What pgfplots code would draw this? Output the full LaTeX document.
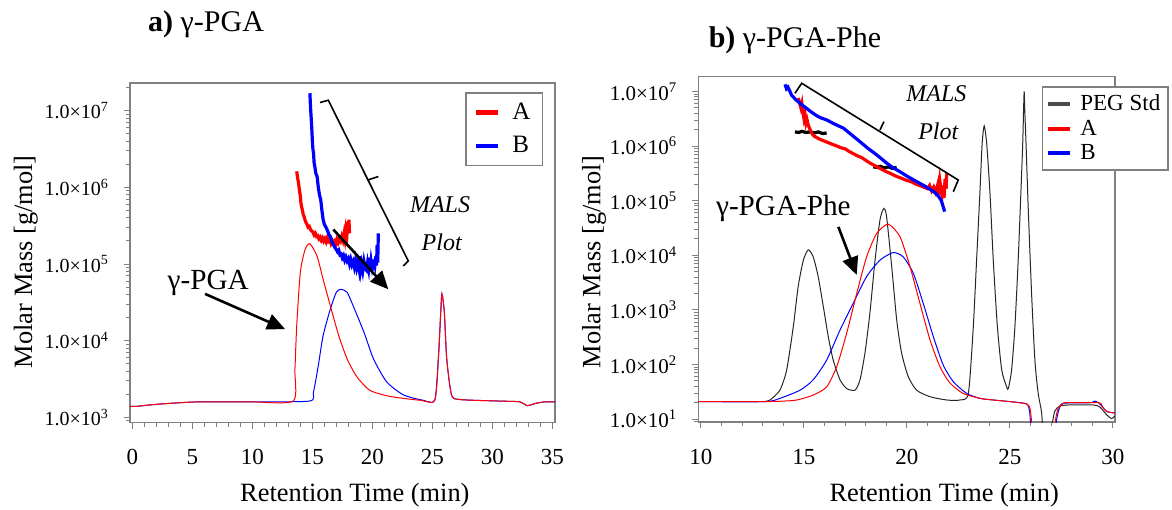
\documentclass[border=0pt]{standalone}
\usepackage{fontspec}
\setmainfont{Liberation Serif}
\usepackage{pgfplots}
\pgfplotsset{compat=1.18}
\usetikzlibrary{arrows.meta}

% y values are log10 of the molar mass (axis drawn in decades)
\pgfplotsset{
  gpc/.style={
    scale only axis, anchor=south west,
    axis line style={draw=gray, line width=0.8pt},
    tick align=outside, tick pos=left,
    tick style={gray, line width=0.5pt},
    major tick length=3pt, minor tick length=2pt,
    minor x tick num=4,
    /pgf/number format/assume math mode=true,
    xticklabel style={font=\fontsize{11.5}{12}\selectfont, yshift=-7pt},
    xlabel style={font=\fontsize{13.2}{14}\selectfont, anchor=center},
    ylabel style={font=\fontsize{13.2}{14}\selectfont, anchor=center},
    title style={font=\fontsize{15}{16}\selectfont, anchor=center, yshift=0pt},
    legend image code/.code={\draw[#1] (0pt,0pt) -- (11pt,0pt);},
    legend cell align=left,
  },
  ri/.style={line width=0.5pt, smooth, tension=0.4, forget plot},
  mals/.style={line width=1.6pt, forget plot},
}

\begin{document}
\begin{tikzpicture}
\path[use as bounding box] (0pt,0pt) rectangle (586pt,254.5pt);

% ---------------- a) gamma-PGA ----------------
\begin{axis}[gpc,
  at={(65pt,43.25pt)}, width=212.5pt, height=169.6pt,
  xmin=-0.19, xmax=35.22, ymin=2.93, ymax=7.36,
  xtick={0,5,...,35},
  ytick={3,4,5,6,7},
  yticklabels={1.0×10\textsuperscript{3},1.0×10\textsuperscript{4},1.0×10\textsuperscript{5},1.0×10\textsuperscript{6},1.0×10\textsuperscript{7}},
  minor ytick={2.954,3.301,3.477,3.602,3.699,3.778,3.845,3.903,3.954,4.301,4.477,4.602,4.699,4.778,4.845,4.903,4.954,5.301,5.477,5.602,5.699,5.778,5.845,5.903,5.954,6.301,6.477,6.602,6.699,6.778,6.845,6.903,6.954,7.301},
  yticklabel style={font=\fontsize{10}{12}\selectfont, xshift=-4pt},
  xlabel={Retention Time (min)},
  xlabel style={at={(axis description cs:0.529,-0.214)}},
  ylabel={Molar Mass [g/mol]},
  ylabel style={at={(axis description cs:-0.245,0.474)}},
  title={\textbf{a)} γ-PGA},
  title style={at={(axis description cs:0.179,1.14)}},
  legend style={at={(axis description cs:0.9725,0.975)}, anchor=north east,
    draw=gray, line width=0.9pt, font=\fontsize{12.5}{13}\selectfont,
    inner xsep=4pt, inner ysep=3pt, row sep=3pt, column sep=4pt},
]
% RI traces
\addplot[ri, blue] coordinates {
(-0.19,3.14) (0.3,3.14) (1.5,3.16) (3.1,3.18) (5.6,3.20) (9.8,3.20) (14.75,3.21)
(15.1,3.33) (15.5,3.675) (15.9,4.065) (16.5,4.41) (17.0,4.63) (17.4,4.67) (17.9,4.63)
(18.4,4.455) (19.3,4.11) (20.1,3.76) (21.2,3.46) (22.6,3.29) (24.25,3.22) (25.2,3.22)
(25.5,3.76) (25.7,4.37) (25.8,4.61) (26.0,4.37) (26.2,3.76) (26.6,3.29) (27.3,3.23)
(30.6,3.21) (32.3,3.20) (32.9,3.15) (33.6,3.18) (34.4,3.20) (35.22,3.20)
};
\addplot[ri, red] coordinates {
(-0.19,3.14) (0.3,3.14) (1.5,3.16) (3.1,3.18) (5.6,3.20) (9.8,3.20) (13.4,3.21)
(13.55,3.62) (13.7,4.19) (14.0,4.89) (14.4,5.19) (14.8,5.265) (15.4,5.10) (15.9,4.80)
(16.5,4.455) (17.2,4.065) (17.9,3.76) (18.7,3.53) (19.8,3.35) (21.5,3.27) (24.0,3.22)
(25.2,3.22) (25.5,3.76) (25.7,4.37) (25.8,4.61) (26.0,4.37) (26.2,3.76) (26.6,3.29)
(27.3,3.23) (30.6,3.21) (32.3,3.20) (32.9,3.15) (33.6,3.18) (34.4,3.20) (35.22,3.20)
};
% MALS traces
\addplot[mals, red] coordinates {
(13.70,6.21) (13.78,6.12) (13.85,6.06) (13.92,5.97) (14.00,5.89) (14.05,5.80) (14.10,5.75)
(14.18,5.70) (14.25,5.64) (14.32,5.62) (14.40,5.57) (14.48,5.54) (14.55,5.52) (14.65,5.48)
(14.75,5.49) (14.85,5.45) (14.95,5.43) (15.05,5.42) (15.15,5.38) (15.25,5.40) (15.35,5.36)
(15.45,5.37) (15.55,5.33) (15.65,5.35) (15.75,5.31) (15.85,5.34) (15.95,5.30) (16.05,5.33)
(16.15,5.29) (16.25,5.34) (16.35,5.30) (16.45,5.32) (16.55,5.27) (16.65,5.31) (16.75,5.28)
(16.85,5.30) (16.95,5.26) (17.05,5.32) (17.15,5.28) (17.25,5.33) (17.35,5.30) (17.45,5.36)
(17.55,5.31) (17.65,5.40) (17.72,5.33) (17.80,5.45) (17.88,5.38) (17.95,5.55) (18.00,5.42)
(18.05,5.58) (18.10,5.40)
};
\addplot[mals, blue] coordinates {
(14.80,7.23) (14.85,7.05) (14.90,6.92) (14.95,6.79) (15.00,6.62) (15.05,6.50) (15.10,6.45)
(15.15,6.32) (15.20,6.28) (15.30,6.18) (15.40,6.14) (15.50,6.00) (15.60,5.90) (15.70,5.84)
(15.80,5.70) (15.90,5.58) (16.00,5.52) (16.10,5.49) (16.20,5.46) (16.30,5.42) (16.40,5.38)
(16.50,5.36) (16.60,5.30) (16.70,5.27) (16.80,5.24) (16.90,5.21) (17.00,5.19) (17.10,5.16)
(17.20,5.18) (17.30,5.12) (17.40,5.13) (17.50,5.08) (17.60,5.11) (17.70,5.05) (17.80,5.09)
(17.90,5.04) (18.00,5.07) (18.10,5.00) (18.20,5.06) (18.30,4.99) (18.40,5.03) (18.50,4.96)
(18.60,5.05) (18.70,4.95) (18.80,5.02) (18.90,4.93) (19.00,5.10) (19.05,4.95) (19.10,5.00)
(19.20,4.91) (19.30,5.03) (19.40,4.94) (19.50,4.92) (19.60,5.02) (19.70,4.93) (19.80,5.08)
(19.85,4.96) (19.90,5.04) (20.00,4.94) (20.10,5.00) (20.20,4.96) (20.30,5.10) (20.35,4.98)
(20.40,5.25) (20.45,5.02) (20.50,5.40)
};
\addlegendimage{red, line width=2.2pt}
\addlegendentry{A}
\addlegendimage{blue, line width=2.2pt}
\addlegendentry{B}
% annotations
\draw[line width=0.8pt] (axis cs:15.64,7.109) -- (axis cs:16.33,7.139) -- (axis cs:23.0,5.039) -- (axis cs:22.58,4.974);
\draw[line width=0.8pt] (axis cs:19.64,6.097) -- (axis cs:20.5,6.143);
\node[font=\itshape\fontsize{12}{13}\selectfont] at (axis cs:25.64,5.775) {MALS};
\node[font=\itshape\fontsize{12}{13}\selectfont] at (axis cs:25.78,5.278) {Plot};
\draw[line width=1.3pt, -{Triangle[length=9pt,width=8pt]}] (axis cs:16.75,5.45) -- (axis cs:21.33,4.67);
\node[font=\fontsize{14.6}{15}\selectfont] at (axis cs:6.33,4.758) {γ-PGA};
\draw[line width=1.3pt, -{Triangle[length=9pt,width=8pt]}] (axis cs:6.06,4.61) -- (axis cs:12.73,4.15);
\end{axis}

% ---------------- b) gamma-PGA-Phe ----------------
\begin{axis}[gpc,
  at={(349.15pt,43.5pt)}, width=208.35pt, height=172.65pt,
  xmin=9.87, xmax=30.1, ymin=0.947, ymax=7.271,
  xtick={10,15,...,30},
  ytick={1,2,3,4,5,6,7},
  yticklabels={1.0×10\textsuperscript{1},1.0×10\textsuperscript{2},1.0×10\textsuperscript{3},1.0×10\textsuperscript{4},1.0×10\textsuperscript{5},1.0×10\textsuperscript{6},1.0×10\textsuperscript{7}},
  minor ytick={0.954,1.301,1.477,1.602,1.699,1.778,1.845,1.903,1.954,2.301,2.477,2.602,2.699,2.778,2.845,2.903,2.954,3.301,3.477,3.602,3.699,3.778,3.845,3.903,3.954,4.301,4.477,4.602,4.699,4.778,4.845,4.903,4.954,5.301,5.477,5.602,5.699,5.778,5.845,5.903,5.954,6.301,6.477,6.602,6.699,6.778,6.845,6.903,6.954},
  yticklabel style={font=\fontsize{10.5}{12}\selectfont, xshift=-4pt},
  xlabel={Retention Time (min)},
  xlabel style={at={(axis description cs:0.590,-0.211)}},
  ylabel={Molar Mass [g/mol]},
  ylabel style={at={(axis description cs:-0.250,0.464)}},
  title={\textbf{b)} γ-PGA-Phe},
  title style={at={(axis description cs:0.232,1.071)}},
  legend style={at={(axis description cs:1.13,0.973)}, anchor=north east,
    draw=gray, line width=0.9pt, font=\fontsize{11.5}{12}\selectfont,
    inner xsep=2pt, inner ysep=2pt, row sep=-1pt, column sep=2pt},
]
% RI traces
\addplot[ri, black!85] coordinates {
(13.0,1.32) (13.35,1.35) (13.83,1.53) (14.16,1.90) (14.48,2.69) (14.72,3.43) (14.97,3.91)
(15.21,4.10) (15.45,3.97) (15.69,3.61) (15.94,3.06) (16.18,2.51) (16.42,2.08) (16.75,1.72)
(17.07,1.56) (17.48,1.53) (17.72,1.72) (17.96,2.21) (18.20,2.94) (18.45,3.91) (18.69,4.65)
(18.88,4.86) (19.01,4.71) (19.26,3.79) (19.50,2.82) (19.74,2.21) (20.06,1.78) (20.47,1.53)
(21.12,1.41) (21.93,1.35) (22.57,1.35) (22.98,1.47) (23.22,2.69) (23.38,3.91) (23.54,5.14)
(23.65,6.05) (23.75,6.37) (23.87,6.05) (24.03,5.14) (24.19,3.91) (24.39,2.69) (24.60,1.90)
(24.84,1.59) (24.92,1.56) (25.08,1.90) (25.24,2.69) (25.40,3.91) (25.53,5.14) (25.62,6.05)
(25.66,6.65) (25.69,7.00) (25.72,6.65) (25.78,6.05) (25.89,4.83) (26.05,3.30) (26.21,2.08)
(26.37,1.47) (26.54,1.11) (26.65,0.5) (26.95,0.5) (27.05,0.9) (27.18,1.15) (27.43,1.24)
(27.91,1.26) (29.04,1.26) (29.37,1.22) (29.69,1.08) (29.94,1.01) (30.1,1.06)
};
\addplot[ri, blue] coordinates {
(9.87,1.32) (13.11,1.32) (13.83,1.38) (14.81,1.53) (15.45,1.72) (16.10,2.08) (16.75,2.63)
(17.39,3.12) (18.04,3.61) (18.69,3.91) (19.33,4.05) (19.82,3.97) (20.31,3.67) (20.79,3.12)
(21.28,2.51) (21.76,1.99) (22.25,1.685) (22.90,1.47) (23.54,1.38) (24.19,1.35) (25.0,1.32)
(25.8,1.28) (25.95,1.15) (26.0,0.9) (26.05,0.5) (27.2,0.5) (27.25,0.95) (27.4,1.2)
(27.6,1.29) (28.9,1.30) (29.1,1.33) (29.3,1.30) (29.5,1.22) (29.69,1.14) (30.1,1.11)
};
\addplot[ri, red] coordinates {
(9.87,1.32) (13.0,1.32) (14.0,1.33) (14.65,1.35) (15.45,1.44) (16.10,1.59) (16.59,1.96)
(17.07,2.57) (17.56,3.30) (18.04,3.97) (18.53,4.40) (19.09,4.57) (19.66,4.34) (20.15,3.79)
(20.63,3.12) (21.12,2.45) (21.60,1.96) (22.09,1.66) (22.73,1.47) (23.54,1.38) (24.19,1.35)
(25.0,1.32) (25.8,1.28) (25.97,1.2) (26.05,0.95) (26.12,0.5) (27.15,0.5) (27.22,1.0)
(27.35,1.2) (27.6,1.29) (27.75,1.30) (29.3,1.30) (29.5,1.22) (29.69,1.14) (30.1,1.11)
};
% MALS traces
\addplot[mals, black] coordinates {
(14.56,6.26) (14.75,6.25) (14.9,6.27) (15.1,6.25) (15.3,6.26) (15.5,6.24) (15.7,6.26) (15.9,6.23) (16.10,6.24)
};
\addplot[mals, black] coordinates {
(18.36,5.62) (18.55,5.61) (18.7,5.63) (18.9,5.60) (19.1,5.62) (19.3,5.59) (19.50,5.61)
};
\addplot[mals, red] coordinates {
(14.72,6.88) (14.78,6.80) (14.85,6.70) (14.90,6.78) (14.95,6.62) (15.00,6.50) (15.05,6.58)
(15.10,6.42) (15.15,6.48) (15.21,6.38) (15.30,6.30) (15.40,6.22) (15.50,6.18) (15.60,6.16)
(15.80,6.12) (16.00,6.09) (16.20,6.06) (16.40,6.03) (16.60,6.00) (16.80,5.97) (17.00,5.95)
(17.20,5.90) (17.40,5.86) (17.60,5.82) (17.80,5.79) (18.00,5.74) (18.20,5.69) (18.40,5.65)
(18.60,5.61) (18.80,5.57) (19.00,5.53) (19.20,5.50) (19.40,5.46) (19.60,5.43) (19.80,5.40)
(20.00,5.37) (20.20,5.35) (20.40,5.31) (20.60,5.28) (20.80,5.25) (21.00,5.22) (21.10,5.28)
(21.20,5.18) (21.30,5.25) (21.40,5.15) (21.50,5.30) (21.55,5.12) (21.60,5.35) (21.65,5.20)
(21.70,5.10) (21.75,5.28) (21.80,5.05) (21.85,5.40) (21.90,5.22) (21.93,5.50)
};
\addplot[mals, blue] coordinates {
(14.08,7.13) (14.15,7.05) (14.22,7.08) (14.32,7.00) (14.40,6.93) (14.48,6.90) (14.60,6.85)
(14.70,6.82) (14.81,6.78) (14.95,6.74) (15.13,6.69) (15.30,6.64) (15.45,6.60) (15.60,6.56)
(15.80,6.52) (16.10,6.48) (16.50,6.40) (16.91,6.33) (17.30,6.21) (17.72,6.08) (18.10,5.96)
(18.53,5.84) (19.01,5.69) (19.30,5.61) (19.66,5.53) (20.00,5.45) (20.47,5.35) (20.90,5.26)
(21.28,5.17) (21.50,5.10) (21.67,5.00) (21.75,4.90) (21.83,4.80)
};
\addlegendimage{black!70, line width=2pt}
\addlegendentry{PEG Std}
\addlegendimage{red, line width=2pt}
\addlegendentry{A}
\addlegendimage{blue, line width=2pt}
\addlegendentry{B}
% annotations
\draw[line width=0.8pt] (axis cs:14.56,6.967) -- (axis cs:14.89,7.150) -- (axis cs:22.49,5.379) -- (axis cs:22.25,5.165);
\draw[line width=0.8pt] (axis cs:18.69,6.295) -- (axis cs:18.88,6.447);
\node[font=\itshape\fontsize{12}{13}\selectfont] at (axis cs:21.43,6.967) {MALS};
\node[font=\itshape\fontsize{12}{13}\selectfont] at (axis cs:21.52,6.264) {Plot};
\node[font=\fontsize{14.6}{15}\selectfont] at (axis cs:14.0,4.861) {γ-PGA-Phe};
\draw[line width=1.3pt, -{Triangle[length=9pt,width=8pt]}] (axis cs:16.67,4.52) -- (axis cs:17.56,3.64);
\end{axis}
\end{tikzpicture}
\end{document}
